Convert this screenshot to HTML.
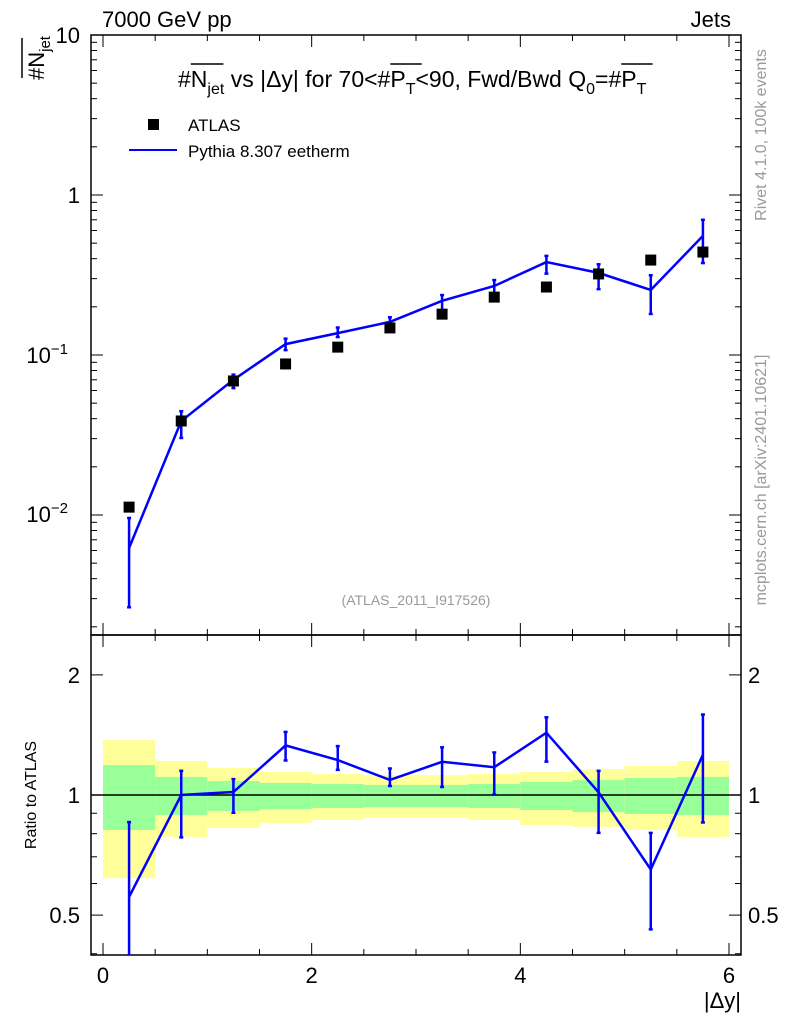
<!DOCTYPE html>
<html><head><meta charset="utf-8"><style>
body{margin:0;background:#fff}
svg{display:block;font-family:"Liberation Sans",sans-serif}
</style></head><body>
<svg id="c" width="786" height="1024" viewBox="0 0 786 1024">
<g id="g"></g>
</svg>
<script>
const xCenters=[0.25,0.75,1.25,1.75,2.25,2.75,3.25,3.75,4.25,4.75,5.25,5.75];
const binEdges=[0,0.5,1,1.5,2,2.5,3,3.5,4,4.5,5,5.5,6];
const atlasValues=[0.0112,0.0387,0.0688,0.0879,0.112,0.1476,0.180,0.230,0.266,0.321,0.392,0.440];
const mcValues=[0.00622,0.0387,0.0700,0.117,0.137,0.161,0.218,0.270,0.381,0.326,0.255,0.555];
const mcUpper=[0.00958,0.0445,0.0754,0.1265,0.1485,0.172,0.237,0.294,0.4165,0.369,0.315,0.700];
const mcLower=[0.00265,0.0303,0.0621,0.1073,0.1295,0.1555,0.1885,0.2305,0.3225,0.2580,0.1805,0.3755];
const bandTotUp=[1.373,1.217,1.169,1.142,1.129,1.122,1.122,1.129,1.142,1.162,1.182,1.217];
const bandStatUp=[1.189,1.110,1.084,1.072,1.066,1.060,1.060,1.066,1.078,1.090,1.103,1.110];
const bandStatLo=[0.817,0.891,0.912,0.922,0.928,0.933,0.933,0.928,0.917,0.906,0.896,0.891];
const bandTotLo=[0.619,0.785,0.827,0.851,0.866,0.876,0.876,0.866,0.841,0.832,0.817,0.785];
const xTicks=[0,2,4,6];
const ratioTicks=[0.5,1,2];

const NS='http://www.w3.org/2000/svg';
const G=document.getElementById('g');
const L=91,R=741,T=35,M=635,B=955;
const X=v=>103+v*(729-103)/6;
const Y=v=>195-160*Math.log10(v);
const YR=v=>795-399*Math.log10(v);
function el(tag,at,parent){const e=document.createElementNS(NS,tag);for(const k in at)e.setAttribute(k,at[k]);(parent||G).appendChild(e);return e;}
function txt(s,x,y,size,anchor,extra){const e=el('text',Object.assign({x:x,y:y,'font-size':size,'text-anchor':anchor||'start'},extra||{}));e.textContent=s;return e;}

const defs=el('defs',{});
const c1=el('clipPath',{id:'cm'},defs);el('rect',{x:L,y:T,width:R-L,height:M-T},c1);
const c2=el('clipPath',{id:'cr'},defs);el('rect',{x:L,y:M,width:R-L,height:B-M},c2);

const bands=el('g',{'clip-path':'url(#cr)'});


for(let i=0;i<xCenters.length;i++){
  const x0=X(binEdges[i]),x1=X(binEdges[i+1]);
  const r1=el('rect',{x:x0,y:YR(bandTotUp[i]),width:x1-x0,height:YR(bandTotLo[i])-YR(bandTotUp[i]),fill:'#ffff99'},bands);
  
  
  const r2=el('rect',{x:x0,y:YR(bandStatUp[i]),width:x1-x0,height:YR(bandStatLo[i])-YR(bandStatUp[i]),fill:'#99ff99'},bands);
  
  
}
el('line',{x1:L,x2:R,y1:YR(1),y2:YR(1),stroke:'#000','stroke-width':1.5});

el('rect',{x:L,y:T,width:R-L,height:M-T,fill:'none',stroke:'#000','stroke-width':1.5});
el('rect',{x:L,y:M,width:R-L,height:B-M,fill:'none',stroke:'#000','stroke-width':1.5});

for(let v=0;v<=6.001;v+=0.5){
  const major=Math.abs(v-Math.round(v/2)*2)<1e-6;const len=major?12:6;const x=X(v);
  [[T,1],[M,-1],[M,1],[B,-1]].forEach(([y,d])=>el('line',{x1:x,x2:x,y1:y,y2:y+d*len,stroke:'#000'}));
}
xTicks.forEach(v=>{const t=txt(String(v),X(v),983,22,'middle');});
const xt=txt('|Δy|',741,1008,22,'end');

for(let e=-3;e<=0;e++){for(let m=1;m<=9;m++){const v=m*Math.pow(10,e);const y=Y(v);if(y<T-0.5||y>M)continue;const len=m===1?12:6;
  el('line',{x1:L,x2:L+len,y1:y,y2:y,stroke:'#000'});el('line',{x1:R,x2:R-len,y1:y,y2:y,stroke:'#000'});}}
el('line',{x1:L,x2:L+12,y1:Y(10),y2:Y(10),stroke:'#000'});el('line',{x1:R,x2:R-12,y1:Y(10),y2:Y(10),stroke:'#000'});
txt('10',80,43,22,'end');txt('1',80,203,22,'end');
const t1=txt('10',68,363,22,'end');el('tspan',{dy:-9,'font-size':15},t1).textContent='−1';
const t2=txt('10',68,522,22,'end');el('tspan',{dy:-9,'font-size':15},t2).textContent='−2';

[0.4,0.5,0.6,0.7,0.8,0.9,1,2].forEach(v=>{const y=YR(v);const len=(v===0.5||v===1||v===2)?12:6;
  el('line',{x1:L,x2:L+len,y1:y,y2:y,stroke:'#000'});el('line',{x1:R,x2:R-len,y1:y,y2:y,stroke:'#000'});});
ratioTicks.forEach(v=>{const a=txt(String(v),80,YR(v)+8,22,'end');
  const b=txt(String(v),748,YR(v)+8,22,'start');});
const rt=txt('Ratio to ATLAS',0,0,16,'middle',{transform:'translate(36,795) rotate(-90)'});


const mg=el('g',{'clip-path':'url(#cm)'});
const mcPts=xCenters.map((x,i)=>X(x)+','+Y(mcValues[i])).join(' ');
const mcl=el('polyline',{points:mcPts,fill:'none',stroke:'#0000ff','stroke-width':2.5},mg);


xCenters.forEach((x,i)=>{const px=X(x);
  const eb=el('g',{stroke:'#0000ff','stroke-width':2.5},mg);
  
  
  el('line',{x1:px,x2:px,y1:Y(mcUpper[i]),y2:Y(mcLower[i])},eb);
  el('line',{x1:px-2,x2:px+2,y1:Y(mcUpper[i]),y2:Y(mcUpper[i])},eb);
  el('line',{x1:px-2,x2:px+2,y1:Y(mcLower[i]),y2:Y(mcLower[i])},eb);
  const m=el('rect',{x:px-5.5,y:Y(atlasValues[i])-5.5,width:11,height:11,fill:'#000'},mg);
  
  
});

const rg=el('g',{'clip-path':'url(#cr)'});
const rPts=xCenters.map((x,i)=>X(x)+','+YR(mcValues[i]/atlasValues[i])).join(' ');
const rl=el('polyline',{points:rPts,fill:'none',stroke:'#0000ff','stroke-width':2.5},rg);


xCenters.forEach((x,i)=>{const px=X(x);const u=YR(mcUpper[i]/atlasValues[i]),d=YR(mcLower[i]/atlasValues[i]);
  const eb=el('g',{stroke:'#0000ff','stroke-width':2.5},rg);
  
  
  el('line',{x1:px,x2:px,y1:u,y2:d},eb);
  el('line',{x1:px-2,x2:px+2,y1:u,y2:u},eb);
  el('line',{x1:px-2,x2:px+2,y1:d,y2:d},eb);
});

txt('7000 GeV pp',102,27,22,'start');
txt('Jets',731,27,22,'end');
const yt=txt('#N',0,0,22,'start',{transform:'translate(44,80) rotate(-90)'});

el('tspan',{dy:6,'font-size':15},yt).textContent='jet';
el('line',{x1:22,x2:22,y1:38,y2:78,stroke:'#000','stroke-width':1.5});
const title=txt('#N',178,87,23,'start');
const parts=[['jet',true],[' vs |Δy| for 70<#P',false],['T',true],['<90, Fwd/Bwd Q',false],['0',true],['=#P',false],['T',true]];
parts.forEach(([s,sub])=>{const t=el('tspan',sub?{dy:7,'font-size':16}:{dy:-7},title);t.textContent=s;});
const full='#N'+parts.map(p=>p[0]).join('');
function over(ci){try{const b=title.getExtentOfChar(ci);el('line',{x1:b.x,x2:b.x+b.width+16,y1:64,y2:64,stroke:'#000','stroke-width':1.5});}catch(e){}}
over(1);
let i1=full.indexOf('#P');over(i1+1);
let i2=full.indexOf('#P',i1+2);over(i2+1);

const lg=el('g',{});
el('rect',{x:148,y:119,width:11,height:11,fill:'#000'},lg);
txt('ATLAS',188,131,17,'start');
el('line',{x1:129,x2:177,y1:150,y2:150,stroke:'#0000ff','stroke-width':2},lg);
txt('Pythia 8.307 eetherm',188,157,17,'start');
txt('(ATLAS_2011_I917526)',416,605,14,'middle',{fill:'#999'});
txt('Rivet 4.1.0,  100k events',0,0,16,'middle',{fill:'#999',transform:'translate(766,135) rotate(-90)'});
txt('mcplots.cern.ch [arXiv:2401.10621]',0,0,16,'middle',{fill:'#999',transform:'translate(766,480) rotate(-90)'});
</script>
</body></html>
